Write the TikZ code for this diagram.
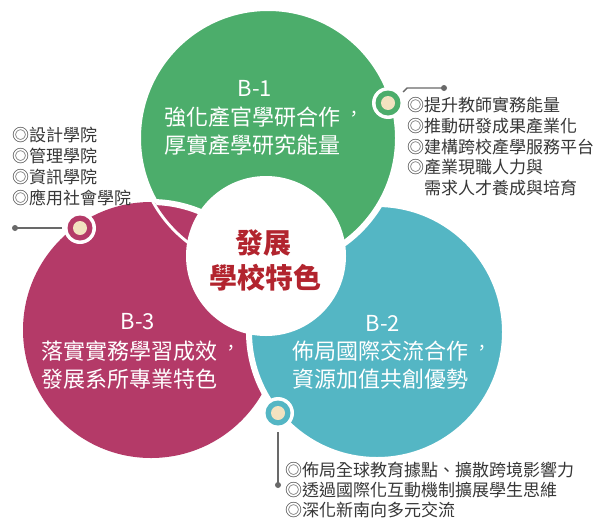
\documentclass[tikz,border=0pt]{standalone}
\usepackage{fontspec}
\newfontfamily\cjk{Noto Sans CJK TC}
\definecolor{cgreen}{RGB}{76,173,107}
\definecolor{cmag}{RGB}{180,58,104}
\definecolor{cteal}{RGB}{84,182,196}
\definecolor{cbeige}{RGB}{242,226,192}
\definecolor{cred}{RGB}{178,36,46}
\definecolor{txtgray}{RGB}{55,55,55}
\definecolor{leadgray}{RGB}{105,105,105}
\newcommand{\tcomma}{\makebox[1em][l]{\hspace{0.25em}\raisebox{0.2em}{\scalebox{0.8}{，}}}}
\tikzset{
  circtxt/.style={text=white, font=\cjk\fontsize{22}{22}\selectfont, inner sep=0pt, anchor=base west},
  btitle/.style={text=white, font=\cjk\fontsize{22}{22}\selectfont, inner sep=0pt, anchor=base},
  centertxt/.style={text=cred, font=\cjk\bfseries\fontsize{28}{28}\selectfont, inner sep=0pt, anchor=base},
  listtxt/.style={text=txtgray, font=\cjk\fontsize{17}{17}\selectfont, inner sep=0pt, anchor=base west},
  leader/.style={draw=leadgray, line width=1.4pt},
  enddot/.style={circle, fill=leadgray, minimum size=6pt, inner sep=0pt},
  gap/.style={draw=white, line width=6pt},
}
\newcommand{\markdot}[3]{%
  \fill[white] (#1) circle[radius=16pt];
  \fill[#2] (#1) circle[radius=12.5pt];
  \fill[cbeige] (#1) circle[radius=7pt];
  \node[circle, minimum size=32pt, inner sep=0pt] (#3) at (#1) {};
}
\begin{document}
\begin{tikzpicture}[x=1pt, y=-1pt]
\useasboundingbox (0,0) rectangle (601,522);
\fill[white] (0,0) rectangle (601,522);
% pinwheel circles
\fill[cmag] (151,330) circle[radius=128pt];
\filldraw[fill=cteal, gap] (377,332) circle[radius=128pt];
\filldraw[fill=cgreen, gap] (268,138) circle[radius=130pt];
\begin{scope}
  \clip (268,138) circle[radius=130pt];
  \filldraw[fill=cmag, gap] (151,330) circle[radius=128pt];
\end{scope}
\fill[white] (266,256) circle[radius=80pt];
% center text
\node[centertxt] (c1) at (263,253.6) {發展};
\node[centertxt] (c2) at (265,288.6) {學校特色};
% B-1
\node[btitle] (b1) at (255,96) {B-1};
\node[circtxt] (b1a) at (164,125) {強化產官學研合作\tcomma};
\node[circtxt] (b1b) at (164,153) {厚實產學研究能量};
% B-3
\node[btitle] (b3) at (138,329) {B-3};
\node[circtxt] (b3a) at (41,359) {落實實務學習成效\tcomma};
\node[circtxt] (b3b) at (41,387) {發展系所專業特色};
% B-2
\node[btitle] (b2) at (383,331) {B-2};
\node[circtxt] (b2a) at (292,359) {佈局國際交流合作\tcomma};
\node[circtxt] (b2b) at (292,387) {資源加值共創優勢};
% marker dots
\markdot{388,103}{cgreen}{dg}
\markdot{80,228}{cmag}{dm}
\markdot{278,413}{cteal}{dt}
% leaders
\coordinate (g0) at (403,92);
\coordinate (g1) at (407,88);
\node[enddot] (ge) at (444,88) {};
\draw[leader] (g0) -- (g1) -- (ge.center);
\coordinate (m0) at (62,228);
\node[enddot] (me) at (15,228) {};
\draw[leader] (m0) -- (me.center);
\coordinate (t0) at (278,432);
\node[enddot] (te) at (278,485) {};
\draw[leader] (t0) -- (te.center);
% lists
\node[listtxt] (l1) at (12,141.5) {◎設計學院};
\node[listtxt] (l2) at (12,162.5) {◎管理學院};
\node[listtxt] (l3) at (12,183.5) {◎資訊學院};
\node[listtxt] (l4) at (12,204.5) {◎應用社會學院};
\node[listtxt] (r1) at (407,111.5) {◎提升教師實務能量};
\node[listtxt] (r2) at (407,132.3) {◎推動研發成果產業化};
\node[listtxt] (r3) at (407,153.1) {◎建構跨校產學服務平台};
\node[listtxt] (r4) at (407,173.9) {◎產業現職人力與};
\node[listtxt] (r5) at (424,194.7) {需求人才養成與培育};
\node[listtxt] (s1) at (285,476.5) {◎佈局全球教育據點、擴散跨境影響力};
\node[listtxt] (s2) at (285,496.5) {◎透過國際化互動機制擴展學生思維};
\node[listtxt] (s3) at (285,516.5) {◎深化新南向多元交流};
\end{tikzpicture}
\end{document}
